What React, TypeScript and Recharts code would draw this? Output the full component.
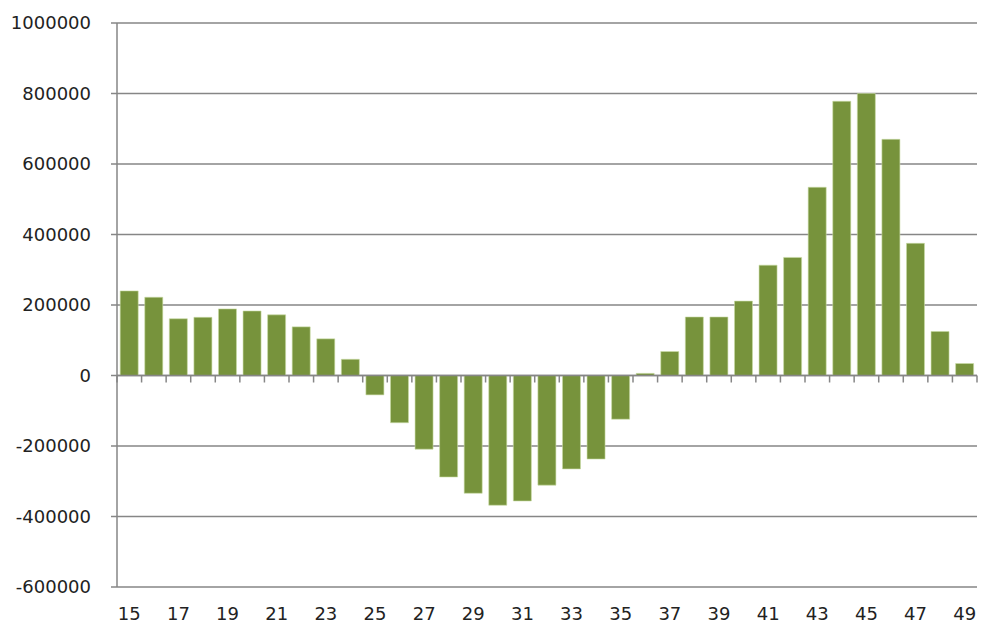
import React from 'react';
import { BarChart, Bar, XAxis, YAxis, CartesianGrid, ReferenceLine } from 'recharts';

const categories = [
  '15','16','17','18','19','20','21','22','23','24','25','26','27','28','29','30','31','32',
  '33','34','35','36','37','38','39','40','41','42','43','44','45','46','47','48','49',
];
const values = [
  240000, 222000, 161000, 165000, 189000, 183000, 172000, 138000, 104000, 46000,
  -55000, -134000, -209000, -288000, -334000, -368000, -356000, -311000, -265000, -237000,
  -124000, 6000, 68000, 166000, 166000, 211000, 313000, 335000, 534000, 778000,
  800000, 670000, 375000, 125000, 34000,
];
const yTicks = [-600000, -400000, -200000, 0, 200000, 400000, 600000, 800000, 1000000];

const data = categories.map((c, i) => ({ cat: c, value: values[i] }));

const ZeroAxis = (props: any) => {
  const { x1, y1, x2, y2 } = props;
  if (x1 == null) return null;
  const n = categories.length;
  const step = (x2 - x1) / n;
  const ticks = [];
  for (let i = 0; i <= n; i++) {
    const x = x1 + i * step;
    ticks.push(<line key={i} x1={x} x2={x} y1={y1} y2={y1 + 7} stroke="#868686" strokeWidth={1.5} />);
  }
  return (
    <g>
      <line x1={x1} y1={y1} x2={x2} y2={y2} stroke="#868686" strokeWidth={1.5} />
      {ticks}
    </g>
  );
};

export default function App() {
  return (
    <div style={{ position: 'absolute', left: 0, top: 0, background: '#fff' }}>
      <BarChart
        width={981}
        height={625}
        data={data}
        margin={{ top: 23, right: 4, left: 0, bottom: 8 }}
        barCategoryGap="13%"
      >
        <CartesianGrid vertical={false} stroke="#868686" strokeWidth={1.5} />
        <XAxis
          dataKey="cat"
          interval={1}
          axisLine={false}
          tickLine={false}
          height={30}
          tickMargin={14}
          tick={{ fill: '#222', fontSize: 18, fontFamily: 'DejaVu Sans' }}
        />
        <YAxis
          width={117}
          domain={[-600000, 1000000]}
          ticks={yTicks}
          interval={0}
          allowDataOverflow
          axisLine={{ stroke: '#868686', strokeWidth: 1.5 }}
          tickLine={{ stroke: '#868686', strokeWidth: 1.5 }}
          tickSize={6}
          tickMargin={20}
          tick={{ fill: '#222', fontSize: 18, fontFamily: 'DejaVu Sans' }}
        />
        <Bar dataKey="value" fill="#77933C" stroke="#c9dba5" strokeWidth={0.6} isAnimationActive={false} />
        <ReferenceLine y={0} shape={ZeroAxis} />
      </BarChart>
    </div>
  );
}
